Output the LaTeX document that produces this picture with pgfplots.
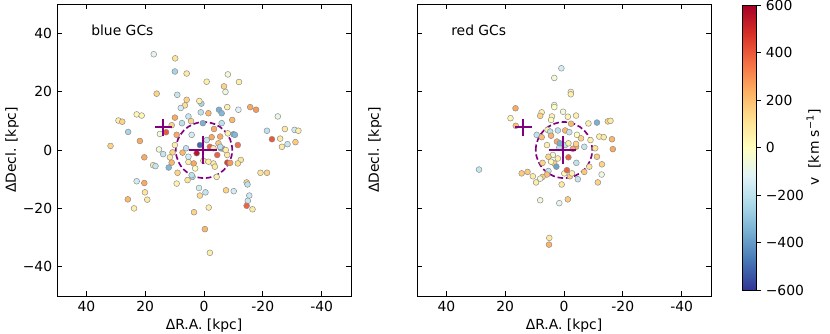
\documentclass[border=0pt]{standalone}
\usepackage{pgfplots}
\pgfplotsset{compat=1.18}
\usepackage{fontspec}
\setmainfont{DejaVu Sans}
\definecolor{mypurple}{HTML}{800080}
\pgfplotstableread{
x y v
17.1 32.8 -100
9.8 31.4 100
9.9 26.9 -250
5.9 26.2 80
-0.9 23.4 60
16.1 19.3 150
9.1 18.9 -180
5.9 17.2 150
0.9 15.9 -250
6.5 15.3 120
7.9 14.4 -150
1.6 16.8 50
1.1 12.9 -200
22.9 12.2 30
21.2 11.8 30
29.1 10.1 60
27.8 9.7 150
9.9 11.1 250
5.3 11.5 -180
25.8 6.2 -250
21.8 3.1 250
31.8 1.4 150
15.0 5.5 -50
12.9 6.1 400
11.0 8.5 150
7.5 9.2 -200
4.4 9.9 150
0.4 9.2 -350
4.2 5.2 -150
9.3 5.2 250
1.4 1.7 -500
6.1 0.6 -200
15.3 0.2 -50
-8.1 25.9 -50
-11.9 23.3 60
-6.8 21.8 150
-7.3 19.9 -70
-7.9 14.7 60
-5.1 13.8 -350
-6.0 12.6 -330
-1.5 12.6 220
-11.7 13.8 -120
-15.7 14.7 250
-17.7 13.8 280
-25.1 11.5 -80
-9.6 10.3 220
-6.0 9.2 -200
-3.4 7.2 250
-8.1 5.7 60
-10.0 5.4 -350
-10.5 5.2 -330
-21.4 6.6 -200
-27.5 7.2 80
-30.8 6.9 -150
-32.1 6.6 60
-23.1 3.7 400
-25.9 3.9 80
-28.4 2.0 -180
-26.5 1.1 80
-31.1 2.7 170
-11.5 1.7 350
-5.5 4.6 250
-4.9 2.3 180
-2.0 1.1 380
-6.3 0.5 250
20.3 -2.5 250
13.9 -1.4 -180
10.7 -0.8 150
17.3 -5.2 80
16.5 -5.5 -180
12.0 -6.0 -330
11.6 -2.5 80
11.0 -4.3 220
9.0 -7.8 150
9.3 -11.5 50
5.6 -10.3 100
3.9 -9.2 -250
5.3 -4.1 60
3.5 -4.6 250
3.0 -6.3 0
0.2 -3.7 60
22.9 -10.7 -150
20.3 -11.3 250
20.1 -14.5 100
19.3 -17.0 80
25.9 -16.9 220
23.8 -20.0 60
1.7 -13.0 -150
-0.5 -14.5 -180
1.4 -15.6 130
3.4 -21.3 150
-1.6 -19.7 60
-0.3 -27.1 220
-2.0 -35.2 60
-5.7 0.6 -350
-4.5 -1.7 380
-7.9 -4.3 450
-8.9 -4.4 280
-7.9 -1.7 80
-3.2 -4.6 80
-3.7 -5.7 80
-1.5 -4.0 60
-4.3 -9.2 60
-12.5 -3.4 100
-11.5 -4.6 120
-19.2 -7.8 100
-21.4 -7.8 150
-14.5 -11.1 150
-14.8 -11.8 -200
-7.5 -13.8 150
-10.1 -14.1 -150
-15.4 -15.6 -170
-14.9 -17.4 -170
-14.5 -19.1 380
-16.5 -20.3 80
-0.9 3.4 -180
-2.6 4.4 250
-5.5 1.1 -200
-7.4 0.0 60
-3.2 0.6 80
7.3 -0.9 220
9.9 1.7 60
5.3 -2.3 -150
4.2 -8.6 -200
2.5 -1.1 550
}\bluegc
\pgfplotstableread{
x y v
0.9 28.0 -150
3.3 24.7 -50
-2.3 19.9 50
-2.3 19.1 60
16.5 14.3 250
18.2 10.9 30
16.4 8.3 200
3.3 15.4 -50
3.3 14.7 0
7.6 12.9 50
8.1 11.7 150
4.1 11.5 50
4.4 10.3 10
0.3 13.1 -50
-1.3 11.4 40
-4.1 11.8 60
-2.4 9.0 220
-8.3 9.1 60
-11.2 9.4 -350
-14.9 9.8 150
-15.8 10.0 80
5.6 6.9 50
4.7 6.3 -200
2.1 6.7 -200
-0.4 6.7 220
-1.8 6.1 -180
9.3 5.2 -200
7.6 4.4 200
4.4 4.9 230
-4.4 5.2 0
-5.8 4.0 150
-9.0 3.4 60
-12.0 4.6 60
-13.5 4.4 80
-16.3 3.7 220
2.4 2.9 250
-0.4 1.7 -200
-4.1 1.1 250
-6.9 1.1 -180
-10.6 0.6 100
-16.6 0.3 250
-3.0 0.4 250
28.9 -6.7 -180
5.8 1.7 60
1.6 0.9 -200
-1.5 2.3 60
-4.1 2.1 150
-11.2 -2.3 170
-12.9 -4.9 150
-12.8 -8.4 -70
-11.5 -11.1 150
-8.6 -5.7 100
-6.9 -7.5 180
-4.2 -4.4 -200
-4.7 -10.0 -180
-2.0 -9.0 170
-2.7 -8.0 50
-0.1 -8.0 30
0.8 -11.8 80
3.3 -4.6 150
3.8 -1.7 -50
2.1 -2.9 50
5.3 -2.3 150
7.3 -4.4 150
4.4 -4.0 20
5.3 -7.2 -180
5.8 -8.4 200
7.3 -9.2 170
8.1 -9.8 -50
10.6 -9.0 70
9.5 -11.1 70
12.4 -7.5 170
14.4 -8.0 170
8.1 -17.2 -60
1.6 -18.2 -100
-1.3 -16.9 170
5.0 -30.1 80
5.1 -32.4 230
1.4 2.3 -350
2.6 -5.7 -380
-1.5 -2.5 380
-1.0 -6.9 380
}\redgc
\pgfplotsset{
  colormap={rdylbur}{rgb255=(49,54,149) rgb255=(69,117,180) rgb255=(116,173,209) rgb255=(171,217,233) rgb255=(224,243,248) rgb255=(255,255,191) rgb255=(254,224,144) rgb255=(253,174,97) rgb255=(244,109,67) rgb255=(215,48,39) rgb255=(165,0,38)},
  panel/.style={
    scale only axis, width=211.7pt, height=210.2pt,
    xmin=-50, xmax=50, ymin=-50, ymax=50, x dir=reverse,
    xtick={-40,-20,0,20,40}, xticklabels={-40,-20,0,20,40},
    ytick={-40,-20,0,20,40},
    tick align=inside, tick pos=both, xticklabel pos=lower, yticklabel pos=left,
    major tick length=3.5pt,
    tick style={black, line width=0.6pt},
    axis line style={line width=0.6pt},
    xlabel={ΔR.A. [kpc]}, ylabel={ΔDecl. [kpc]},
    xlabel style={at={(axis description cs:0.5,-0.1)}, anchor=center},
    colormap name=rdylbur, point meta min=-600, point meta max=600,
  },
  gcs/.style={scatter, only marks, scatter src=explicit, mark=*, mark size=2.1pt,
    scatter/use mapped color={draw=black!45, fill=mapped color},
    mark options={line width=0.35pt}},
}
\begin{document}
\begin{tikzpicture}
\useasboundingbox (-41.04pt,-27.36pt) rectangle (556.56pt,213.12pt);
\begin{axis}[panel, at={(0pt,0pt)}, anchor=south west,
  yticklabels={−40,−20,0,20,40},
  ylabel style={at={(axis description cs:-0.153,0.5)}, anchor=center}]
\addplot[gcs] table[x=x, y=y, meta=v] {\bluegc};
\draw[mypurple, line width=1.2pt, dash pattern=on 4pt off 2pt] (axis cs:0,0) ellipse[x radius=9.6, y radius=9.6];
\addplot[only marks, mark=+, mark size=10pt, mark options={line width=1.4pt, draw=mypurple}] coordinates {(0.3,0)};
\addplot[only marks, mark=+, mark size=6pt, mark options={line width=1.4pt, draw=mypurple}] coordinates {(13.8,7.8)};
\node[anchor=west] at (axis description cs:0.1,0.91) {blue GCs};
\end{axis}
\begin{axis}[panel, at={(259.2pt,0pt)}, anchor=south west,
  yticklabels={},
  ylabel style={at={(axis description cs:-0.143,0.5)}, anchor=center},
  colorbar,
  colorbar style={width=9.7pt, height=205.2pt,
    at={(parent axis.north east)}, anchor=north west, xshift=14.2pt, yshift=-0.7pt,
    ytick={-600,-400,-200,0,200,400,600},
    yticklabels={−600,−400,−200,0,200,400,600},
    ytick pos=right, yticklabel pos=right, ytick align=outside,
    major tick length=3.5pt, tick style={black, line width=0.6pt},
    axis line style={line width=0.6pt},
    ylabel={v\,\, [km s\textsuperscript{−1}]},
    ylabel style={at={(axis description cs:5.27,0.5)}, anchor=center}}]
\addplot[gcs] table[x=x, y=y, meta=v] {\redgc};
\draw[mypurple, line width=1.2pt, dash pattern=on 4pt off 2pt] (axis cs:0,0) ellipse[x radius=9.6, y radius=9.6];
\addplot[only marks, mark=+, mark size=10pt, mark options={line width=1.4pt, draw=mypurple}] coordinates {(0.5,0)};
\addplot[only marks, mark=+, mark size=6pt, mark options={line width=1.4pt, draw=mypurple}] coordinates {(13.8,7.8)};
\node[anchor=west] at (axis description cs:0.1,0.91) {red GCs};
\end{axis}
\end{tikzpicture}
\end{document}
